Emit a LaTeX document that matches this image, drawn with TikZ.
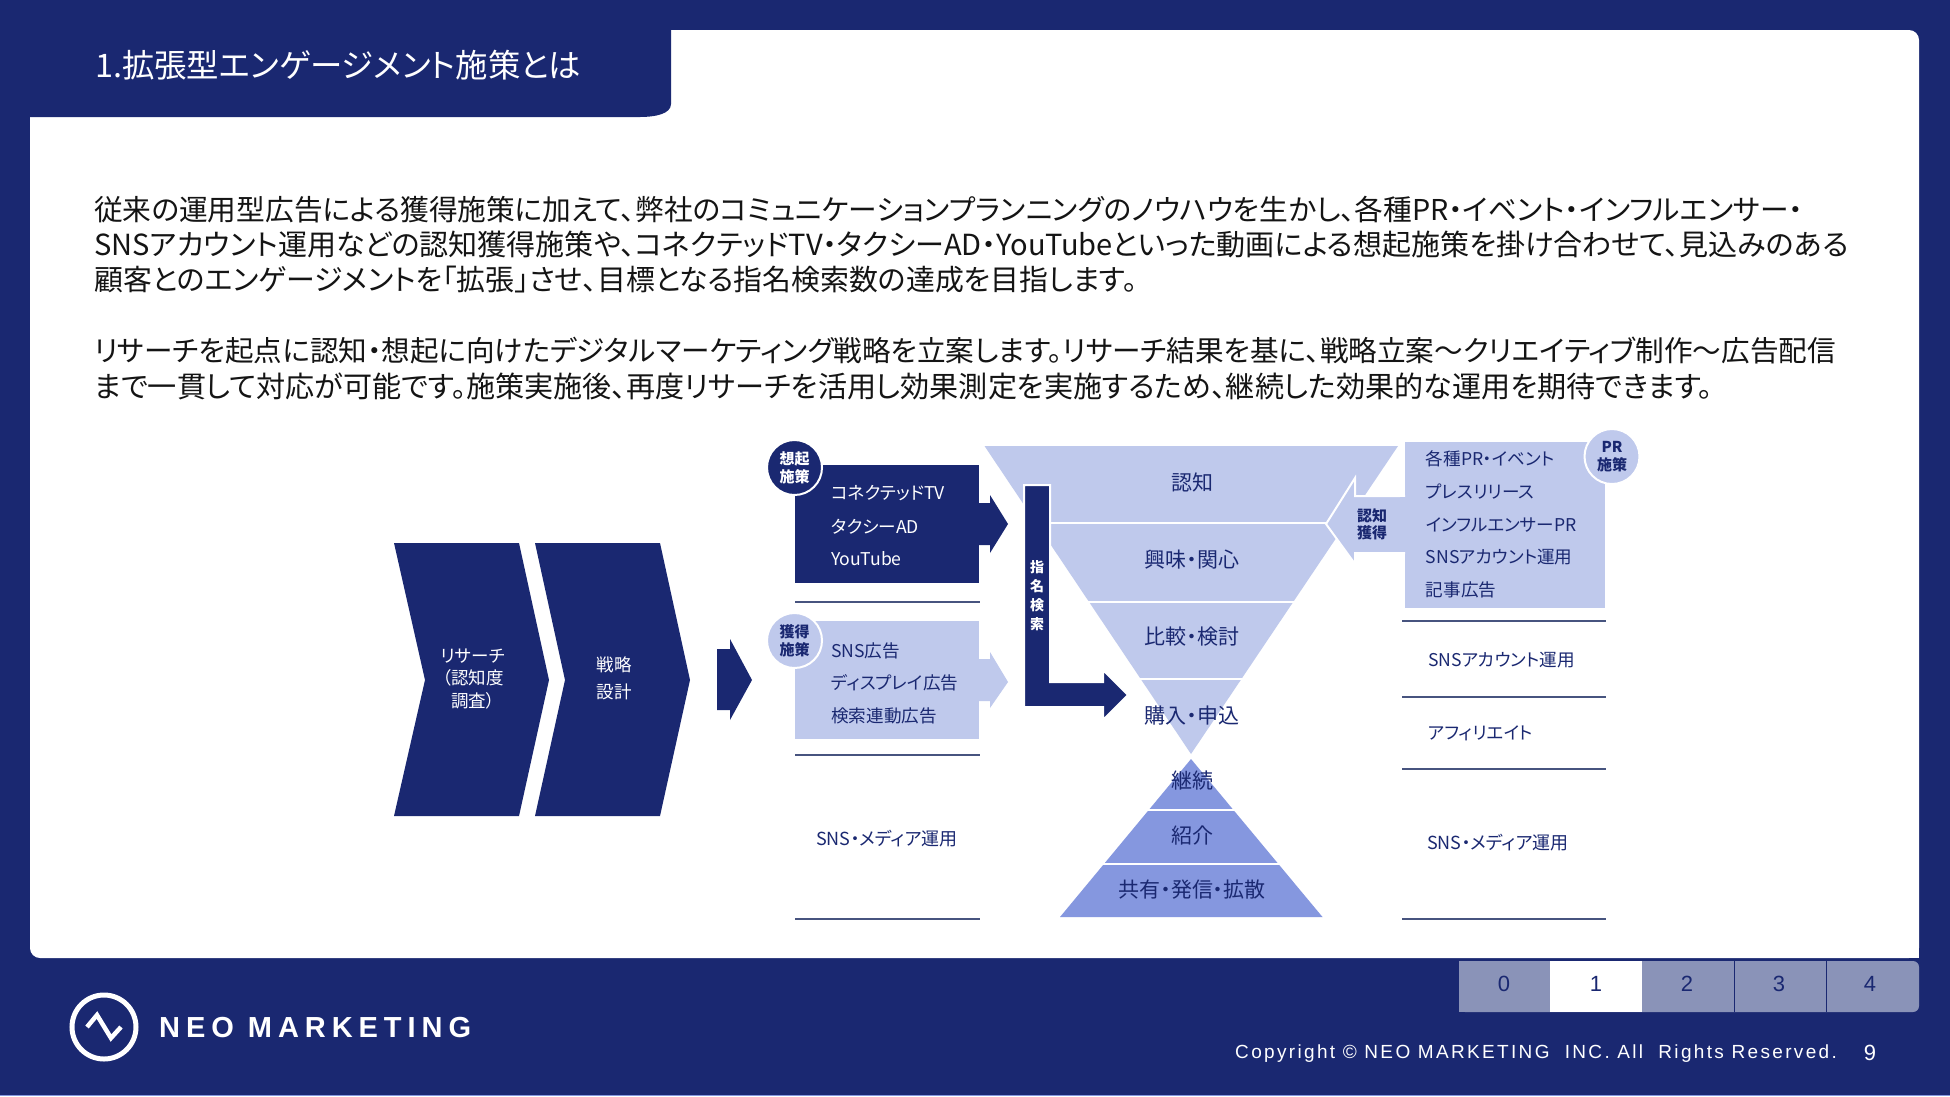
\documentclass[tikz,border=0pt]{standalone}
\usepackage{fontspec}
\setmainfont{Noto Sans CJK JP}[RawFeature=+palt]
\newfontfamily\footfont{Liberation Sans}
\newfontfamily\brandfont{Liberation Sans}[LetterSpace=20.5]
\newfontfamily\copyfont{Liberation Sans}[LetterSpace=12.3]
\usetikzlibrary{positioning}
\definecolor{navy}{HTML}{1A2871}
\definecolor{lightblue}{HTML}{BFC9EC}
\definecolor{midblue}{HTML}{8597DF}
\definecolor{tabgrey}{HTML}{8A93B8}
\definecolor{rulecol}{HTML}{47547F}
\newcommand{\fsize}[1]{\fontsize{#1}{#1}\selectfont}

\begin{document}
\begin{tikzpicture}[
      x=1pt, y=-1pt,
      % Styling nodes
      base/.style={inner sep=0pt, align=center, text=navy},
      bodyline/.style={base, anchor=west, text=black!92},
      funneltext/.style={base, font=\fsize{21}},
      itemtext/.style={base, anchor=west, font=\fsize{17.6}},
      mediatext/.style={base, anchor=west, font=\fsize{18}},
      darkitem/.style={itemtext, text=white},
      badge/.style={circle, draw=white, line width=2pt, minimum size=55pt, inner sep=0pt, align=center, font=\fontsize{15}{18}\selectfont\bfseries},
      tabtext/.style={base, font=\footfont\fsize{22}},
      sepline/.style={draw=rulecol, line width=1.3pt},
      cutline/.style={draw=white, line width=2pt, line join=miter}
    ]
    \useasboundingbox (0,0) rectangle (1950,1096);

    % Frame and title tab
    \fill[navy] (0,0) rectangle (1950,1096);
    \fill[midblue] (0,1094.5) rectangle (1950,1096);
    \fill[white, rounded corners=10pt] (30,30) -- (1919,30) -- (1919,958) -- (30,958) -- cycle;
    \fill[white] (1900,940) rectangle (1919,958);
    \fill[navy] (0,0) -- (671,0) -- (671,104) .. controls (671,114) and (655,117) .. (640,117) -- (0,117) -- cycle;
    \node (title) [base, anchor=west, text=white, font=\fsize{32.4}] at (95,65) {1.拡張型エンゲージメント施策とは};

    % Body text
    \node (line1) [bodyline, font=\fsize{28.7}] at (94,209.5) {従来の運用型広告による獲得施策に加えて、弊社のコミュニケーションプランニングのノウハウを生かし、各種PR・イベント・インフルエンサー・};
    \node (line2) [bodyline, font=\fsize{29.05}] at (94,244.5) {SNSアカウント運用などの認知獲得施策や、コネクテッドTV・タクシーAD・YouTubeといった動画による想起施策を掛け合わせて、見込みのある};
    \node (line3) [bodyline, font=\fsize{28.9}] at (94,279.5) {顧客とのエンゲージメントを「拡張」させ、目標となる指名検索数の達成を目指します。};
    \node (line4) [bodyline, font=\fsize{28.6}] at (94,351) {リサーチを起点に認知・想起に向けたデジタルマーケティング戦略を立案します。リサーチ結果を基に、戦略立案〜クリエイティブ制作〜広告配信};
    \node (line5) [bodyline, font=\fsize{29.1}] at (94,386) {まで一貫して対応が可能です。施策実施後、再度リサーチを活用し効果測定を実施するため、継続した効果的な運用を期待できます。};

    % Chevrons
    \fill[navy] (394,543) -- (519,543) -- (549,680) -- (519,816) -- (394,816) -- (425,680) -- cycle;
    \fill[navy] (535,543) -- (660,543) -- (690,680) -- (660,816) -- (535,816) -- (565,680) -- cycle;
    \node (research) [base, text=white, font=\fontsize{17.5}{22.5}\selectfont] at (473,679) {リサーチ\\（認知度\\調査）};
    \node (strategy) [base, text=white, font=\fontsize{17.5}{27}\selectfont] at (614,678) {戦略\\設計};
    \fill[navy] (717,649) -- (730,649) -- (730,639) -- (752,680) -- (730,720) -- (730,710) -- (717,710) -- cycle;

    % Left boxes
    \fill[navy] (795,465) rectangle (979,583);
    \fill[navy] (979,503) -- (990,503) -- (990,495) -- (1008,524) -- (990,553) -- (990,545) -- (979,545) -- cycle;
    \fill[lightblue] (795,621) rectangle (979,739);
    \fill[lightblue] (979,659) -- (990,659) -- (990,652) -- (1008,682) -- (990,708) -- (990,701) -- (979,701) -- cycle;
    \draw[sepline] (795,602) -- (980,602);
    \draw[sepline] (795,755) -- (980,755);
    \draw[sepline] (795,919) -- (980,919);
    \node (recall) [badge, fill=navy, text=white] at (794.5,467.5) {想起\\施策};
    \node (acquire) [badge, fill=lightblue, text=navy] at (794.5,640.5) {獲得\\施策};
    \node (ctv) [darkitem] at (831,493) {コネクテッドTV};
    \node (taxi) [darkitem] at (831,527) {タクシーAD};
    \node (youtube) [darkitem] at (831,559) {YouTube};
    \node (snsad) [itemtext] at (831,651) {SNS広告};
    \node (display) [itemtext] at (831,683) {ディスプレイ広告};
    \node (search) [itemtext] at (831,716) {検索連動広告};
    \node (mediaL) [mediatext] at (816,839) {SNS・メディア運用};

    % Funnel and pyramid
    \fill[lightblue] (984.5,446) -- (1398,446) -- (1191,754) -- cycle;
    \fill[midblue] (1191,759) -- (1322.5,917) -- (1060,917) -- cycle;
    \draw[cutline] (1030,523) -- (1352,523);
    \draw[cutline] (1080,602) -- (1302,602);
    \draw[cutline] (1130,679) -- (1252,679);
    \draw[cutline] (1130,810) -- (1252,810);
    \draw[cutline] (1085,864) -- (1297,864);
    \node (aware) [funneltext] at (1192,482) {認知};
    \node (interest) [funneltext] at (1192,560) {興味・関心};
    \node (compare) [funneltext] at (1192,637) {比較・検討};
    \node (buy) [funneltext] at (1192,716) {購入・申込};
    \node (keep) [funneltext] at (1192,781) {継続};
    \node (refer) [funneltext] at (1192,836) {紹介};
    \node (share) [funneltext] at (1192,890) {共有・発信・拡散};

    % Search arrow
    \fill[navy, draw=white, line width=2pt] (1024,485) -- (1050,485) -- (1050,682) -- (1103,682) -- (1103,670) -- (1128,695) -- (1103,720) -- (1103,707) -- (1024,707) -- cycle;
    \node (named) [base, text=white, font=\fontsize{14}{19}\selectfont\bfseries] at (1037,596) {指\\名\\検\\索};

    % Right box
    \fill[lightblue] (1405,442) rectangle (1605,608);
    \fill[lightblue, draw=white, line width=2pt] (1405,496) -- (1355,496) -- (1355,478) -- (1326,524) -- (1355,564) -- (1355,553) -- (1405,553);
    \fill[lightblue] (1400,497) rectangle (1410,552);
    \node (awareget) [base, font=\fontsize{15}{17}\selectfont\bfseries] at (1372,524) {認知\\獲得};
    \node (pr) [badge, fill=lightblue, text=navy] at (1612,456.5) {PR\\施策};
    \node (event) [itemtext] at (1425.6,459) {各種PR・イベント};
    \node (press) [itemtext] at (1425.6,492) {プレスリリース};
    \node (influencer) [itemtext] at (1425.6,525) {インフルエンサーPR};
    \node (account) [itemtext] at (1425.6,557) {SNSアカウント運用};
    \node (article) [itemtext] at (1425.6,590) {記事広告};
    \draw[sepline] (1402,621) -- (1606,621);
    \draw[sepline] (1402,697) -- (1606,697);
    \draw[sepline] (1402,769) -- (1606,769);
    \draw[sepline] (1402,919) -- (1606,919);
    \node (accountR) [itemtext] at (1428,660) {SNSアカウント運用};
    \node (affiliate) [itemtext] at (1428,733) {アフィリエイト};
    \node (mediaR) [mediatext] at (1427,843) {SNS・メディア運用};

    % Page tabs
    \fill[tabgrey, rounded corners=6pt] (1459,961) -- (1919,961) -- (1919,1012) -- (1459,1012) -- cycle;
    \fill[tabgrey] (1459,961) rectangle (1470,1012);
    \fill[white] (1550,961) rectangle (1642,1012);
    \draw[navy] (1734,961) -- (1734,1012);
    \draw[navy] (1826,961) -- (1826,1012);
    \node (tab0) [tabtext] at (1504,984) {0};
    \node (tab1) [tabtext] at (1596,984) {1};
    \node (tab2) [tabtext] at (1687,984) {2};
    \node (tab3) [tabtext] at (1779,984) {3};
    \node (tab4) [tabtext] at (1870,984) {4};

    % Logo and footer
    \draw[white, line width=5pt] (104,1027) circle (32);
    \draw[white, line width=4.5pt, line join=miter] (87,1027) -- (97,1015) -- (111,1038) -- (121,1027);
    \node (brand) [base, anchor=west, text=white, font=\brandfont\fsize{29}\bfseries] at (159,1027) {NEO MARKETING};
    \node (copy) [base, anchor=west, text=white, font=\copyfont\fsize{19}] at (1235,1054) {Copyright © NEO MARKETING\ \ INC. All\ \ Rights Reserved.};
    \node (pageno) [base, text=white, font=\footfont\fsize{22}] at (1870,1053) {9};

\end{tikzpicture}
\end{document}
